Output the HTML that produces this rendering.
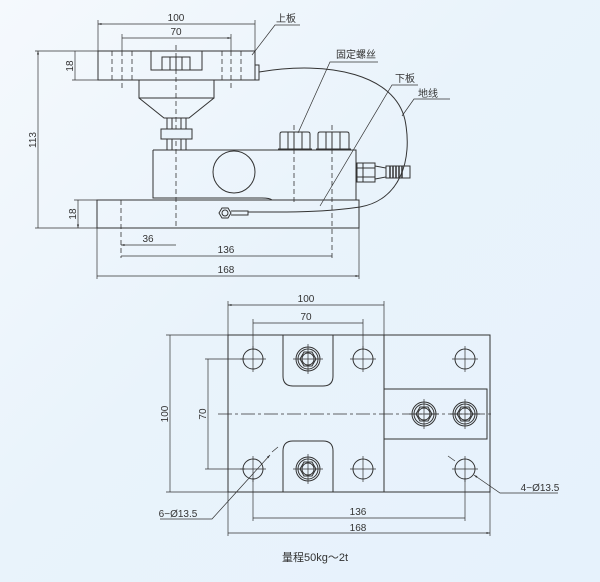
<!DOCTYPE html>
<html><head><meta charset="utf-8"><style>
html,body{margin:0;padding:0}
body{width:600px;height:582px;background:linear-gradient(135deg,#f5f9fd 0%,#e9f3fb 45%,#e6f2fc 100%);overflow:hidden}
svg{display:block}
text{font-family:"Liberation Sans","Noto Sans CJK SC",sans-serif;fill:#333}
</style></head><body>
<svg width="600" height="582" viewBox="0 0 600 582" xmlns="http://www.w3.org/2000/svg">
<defs>
<marker id="a" viewBox="0 0 10 10" refX="10" refY="5" markerWidth="7" markerHeight="5" orient="auto-start-reverse"><path d="M0,2 L10,5 L0,8z" fill="#333"/></marker>
</defs>
<g stroke="#333" fill="none" stroke-width="1">
<rect x="98" y="51" width="157" height="29"/>
<path d="M151,51 V70 H202 V51"/>
<rect x="162" y="57" width="28" height="13"/>
<path d="M170,57V70 M176,57V70 M182,57V70 M160,70H192"/>
<rect x="255" y="65" width="4" height="15"/>
<g stroke-dasharray="5,3" stroke-width="0.8">
<path d="M112,51V80 M122,51V89 M132,51V80 M222,51V80 M231,51V89 M241,51V80"/>
<path d="M176,45V228"/>
<path d="M294,125V205 M332,125V258"/>
<path d="M121,200V258"/>
</g>
<rect x="139" y="80" width="75" height="18"/>
<path d="M139,98 L164,118 H189 L214,98"/>
<path d="M167,118V150 M186,118V150 M172,118V150 M181,118V150"/>
<rect x="161" y="129" width="31" height="10" fill="#e9f3fb"/>
<path d="M153,150 H356 V200 M153,150 V198 H262 Q270,198 272,200"/>
<circle cx="234" cy="172" r="21"/>
<path d="M280,149 V134 Q280,132 282,132 H308 Q310,132 310,134 V149 M288,132V149 M294,132V149 M302,132V149 M278,149H312"/>
<path d="M318,149 V134 Q318,132 320,132 H347 Q349,132 349,134 V149 M326,132V149 M332,132V149 M340,132V149 M316,149H351"/>
<rect x="357" y="163" width="18" height="19"/>
<path d="M357,168H375 M357,177H375 M363,163V182"/>
<path d="M375,166 L386,168 V177 L375,179"/>
<rect x="386" y="166" width="24" height="12"/>
<path d="M390,166V178 M393,166V178 M396,166V178 M399,166V178 M402,166V178" stroke-width="1.5"/>
<rect x="97" y="200" width="262" height="28"/>
<path d="M259,72 C330,60 395,75 405,120 C413,160 400,200 360,207 C320,213 280,212 248,212"/>
<polygon points="219,213 222,208 228,208 231,213 228,218 222,218"/>
<circle cx="225" cy="213" r="3"/>
<path d="M231,211 H248 V215 H231"/>
<path d="M35,51H98 M35,228H97 M72,80H98 M74,200H97" stroke-width="0.7"/>
<path d="M38,51V228 M75,51V80 M78,200V228" stroke-width="0.7" marker-start="url(#a)" marker-end="url(#a)"/>
<path d="M98,20V51 M255,20V51 M122,34V51 M231,34V51" stroke-width="0.7"/>
<path d="M98,24H255 M122,38H231" stroke-width="0.7" marker-start="url(#a)" marker-end="url(#a)"/>
<path d="M97,228V279 M359,228V279" stroke-width="0.7"/>
<path d="M121,245H176 M121,256H332 M97,276H359" stroke-width="0.7" marker-start="url(#a)" marker-end="url(#a)"/>
<path d="M252,55 L275,25 H300 M298,133 L330,62 H378 M320,206 L392,85 H418 M402,116 L414,99 H450" stroke-width="0.7"/>

<rect x="228" y="335" width="262" height="157"/>
<path d="M384,335V389 M384,439V492"/>
<rect x="384" y="389" width="103" height="50"/>
<path d="M283,335 V376 Q283,386 293,386 H323 Q333,386 333,376 V335"/>
<path d="M283,492 V451 Q283,441 293,441 H323 Q333,441 333,451 V492"/>
<g>
<circle cx="253" cy="359" r="10"/><circle cx="363" cy="359" r="10"/>
<circle cx="253" cy="469" r="10"/><circle cx="363" cy="469" r="10"/>
<circle cx="465" cy="359" r="10"/><circle cx="465" cy="469" r="10"/>
</g>
<g stroke-width="0.7">
<path d="M240,359H266 M253,346V372 M350,359H376 M363,346V372 M240,469H266 M253,456V482 M350,469H376 M363,456V482 M452,359H478 M465,346V372 M452,469H478 M465,456V482"/>
</g>
<g>
<circle cx="308" cy="359" r="12"/><circle cx="308" cy="359" r="10"/><polygon points="300,359 304,352 312,352 316,359 312,366 304,366"/><circle cx="308" cy="359" r="6"/>
<circle cx="308" cy="469" r="12"/><circle cx="308" cy="469" r="10"/><polygon points="300,469 304,462 312,462 316,469 312,476 304,476"/><circle cx="308" cy="469" r="6"/>
<circle cx="424" cy="414" r="12"/><circle cx="424" cy="414" r="10"/><polygon points="416,414 420,407 428,407 432,414 428,421 420,421"/><circle cx="424" cy="414" r="6"/>
<circle cx="465" cy="414" r="12"/><circle cx="465" cy="414" r="10"/><polygon points="457,414 461,407 469,407 473,414 469,421 461,421"/><circle cx="465" cy="414" r="6"/>
</g>
<g stroke-width="0.7">
<path d="M293,359H323 M308,344V374 M293,469H323 M308,454V484 M409,414H439 M424,399V429 M450,414H480 M465,399V429"/>
<path d="M218,414H492" stroke-dasharray="14,3,3,3"/>
<path d="M228,301V335 M384,301V335 M253,319V350 M363,319V350" />
<path d="M166,335H228 M166,492H228 M205,359H245 M205,469H245"/>
<path d="M228,492V536 M490,492V536 M253,478V521 M465,478V521"/>
</g>
<path d="M228,305H384 M253,323H363 M170,335V492 M208,359V469 M253,518H465 M228,533H490" stroke-width="0.7" marker-start="url(#a)" marker-end="url(#a)"/>
<path d="M160,519H212 L270,455" stroke-width="0.7" marker-end="url(#a)"/>
<path d="M272,452 L278,447" stroke-width="0.7"/>
<path d="M558,493H500 L474,475" stroke-width="0.7" marker-end="url(#a)"/>
<path d="M448,456 L455,461" stroke-width="0.7"/>
</g>
<g font-size="10" text-anchor="middle">
<text x="176" y="21">100</text>
<text x="176" y="35">70</text>
<text x="70" y="66" transform="rotate(-90 70 66)" dy="3">18</text>
<text x="73" y="214" transform="rotate(-90 73 214)" dy="3">18</text>
<text x="33" y="140" transform="rotate(-90 33 140)" dy="3">113</text>
<text x="148" y="242">36</text>
<text x="226" y="253">136</text>
<text x="226" y="273">168</text>
<text x="286" y="22">上板</text>
<text x="356" y="58">固定螺丝</text>
<text x="405" y="82">下板</text>
<text x="428" y="97">地线</text>
<text x="306" y="302">100</text>
<text x="306" y="320">70</text>
<text x="165" y="414" transform="rotate(-90 165 414)" dy="3">100</text>
<text x="203" y="414" transform="rotate(-90 203 414)" dy="3">70</text>
<text x="358" y="515">136</text>
<text x="358" y="531">168</text>
<text x="178" y="517">6−Ø13.5</text>
<text x="540" y="491">4−Ø13.5</text>
<text x="315" y="561" font-size="11">量程50kg～2t</text>
</g>
</svg>
</body></html>
